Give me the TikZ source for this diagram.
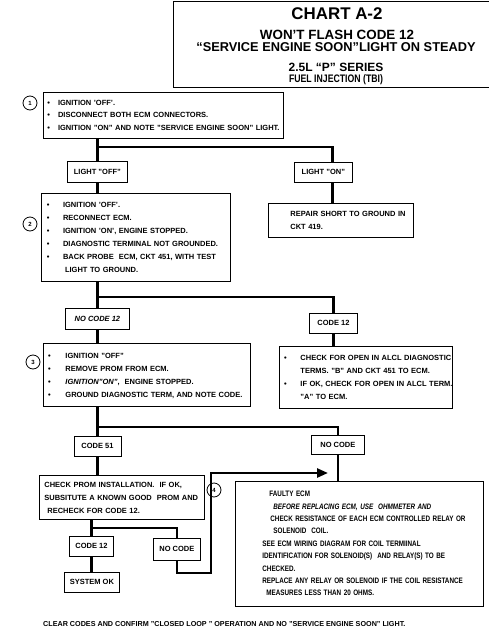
\documentclass[tikz,border=0pt]{standalone}
\usepackage{fontspec}
\setmainfont{Liberation Sans}
\newfontfamily\narrowfont[FakeStretch=0.8]{Liberation Sans}
\usetikzlibrary{arrows.meta}

\begin{document}
\begin{tikzpicture}[x=1pt,y=-1pt,
  box/.style={draw,line width=0.8pt,inner sep=0pt,anchor=north west,align=left,
    font=\fontsize{7.5}{13}\selectfont\bfseries},
  lbl/.style={draw,line width=0.8pt,inner sep=0pt,anchor=north west,
    font=\fontsize{7.5}{9}\selectfont\bfseries},
  num/.style={draw,circle,line width=0.8pt,inner sep=0pt,minimum size=14pt,
    font=\fontsize{6}{7}\selectfont\bfseries},
  ttl/.style={anchor=base,inner sep=0pt},
  link/.style={line width=2.4pt}]
\useasboundingbox (0,0) rectangle (488,640);
\node[draw,line width=0.9pt,anchor=north west,minimum width=319pt,minimum height=86pt] (head) at (173,1) {};
\node[ttl,font=\fontsize{16.9}{18}\selectfont\bfseries] (chart) at (337,19.3) {CHART A-2};
\node[ttl,font=\fontsize{13.4}{15}\selectfont\bfseries] (won) at (337,39.3) {WON’T FLASH CODE 12};
\node[ttl,font=\fontsize{12.8}{15}\selectfont\bfseries] (ses) at (336,51.7) {“SERVICE ENGINE SOON”LIGHT ON STEADY};
\node[ttl,font=\fontsize{12}{14}\selectfont\bfseries] (series) at (336,71.7) {2.5L “P” SERIES};
\node[ttl,font=\narrowfont\fontsize{10.9}{12}\selectfont\bfseries] (tbi) at (336,82.5) {FUEL INJECTION (TBI)};

\node[box,text width=240pt,minimum height=46pt] (s1) at (43,92) {\fontsize{7.5}{12.7}\selectfont
\begin{tabular}{@{\hspace{4pt}}l@{\hspace{8pt}}l@{}}
\textbullet & IGNITION ’OFF’.\\
\textbullet & DISCONNECT BOTH ECM CONNECTORS.\\
\textbullet & IGNITION "ON" AND NOTE "SERVICE ENGINE SOON" LIGHT.
\end{tabular}};
\node[num] (n1) at (30,103) {1};
\node[lbl,minimum width=60pt,minimum height=21pt] (lightoff) at (67,161) {LIGHT "OFF"};
\node[lbl,minimum width=58pt,minimum height=20pt] (lighton) at (294,162) {LIGHT "ON"};
\node[box,text width=189pt,minimum height=88pt] (s2) at (41,193) {%
\begin{tabular}{@{\hspace{5.5pt}}l@{\hspace{13.5pt}}l@{}}
\textbullet & IGNITION ’OFF’.\\
\textbullet & RECONNECT ECM.\\
\textbullet & IGNITION ’ON’, ENGINE STOPPED.\\
\textbullet & DIAGNOSTIC TERMINAL NOT GROUNDED.\\
\textbullet & BACK PROBE \ ECM, CKT 451, WITH TEST\\
 & \hspace{2pt}LIGHT TO GROUND.
\end{tabular}};
\node[num] (n2) at (30,224) {2};
\node[box,text width=145pt,minimum height=34pt] (repair) at (268,203) {%
\begin{tabular}{@{\hspace{22pt}}l@{}}
REPAIR SHORT TO GROUND IN\\
CKT 419.
\end{tabular}};
\node[lbl,minimum width=64pt,minimum height=21pt] (nocode12) at (65,308) {\itshape NO CODE 12};
\node[lbl,minimum width=48pt,minimum height=20pt] (code12a) at (309,313) {CODE 12};
\node[box,text width=207pt,minimum height=63pt] (s3) at (43,343) {%
\begin{tabular}{@{\hspace{4.7pt}}l@{\hspace{14.7pt}}l@{}}
\textbullet & IGNITION "OFF"\\
\textbullet & REMOVE PROM FROM ECM.\\
\textbullet & \textit{IGNITION"ON"}, \ ENGINE STOPPED.\\
\textbullet & GROUND DIAGNOSTIC TERM, AND NOTE CODE.
\end{tabular}};
\node[num] (n3) at (33,362) {3};
\node[box,text width=173pt,minimum height=62pt] (alcl) at (279,346) {%
\begin{tabular}{@{\hspace{4.7pt}}l@{\hspace{13.7pt}}l@{}}
\textbullet & CHECK FOR OPEN IN ALCL DIAGNOSTIC\\
 & TERMS. "B" AND CKT 451 TO ECM.\\
\textbullet & IF OK, CHECK FOR OPEN IN ALCL TERM.\\
 & "A" TO ECM.
\end{tabular}};
\node[lbl,minimum width=47pt,minimum height=20pt] (code51) at (73.5,436) {CODE 51};
\node[lbl,minimum width=53pt,minimum height=19pt] (nocodea) at (311,435) {NO CODE};
\node[box,text width=165pt,minimum height=44pt] (prom) at (39,475) {%
\begin{tabular}{@{\hspace{5pt}}l@{}}
CHECK PROM INSTALLATION. \ IF OK,\\
SUBSITUTE A KNOWN GOOD \ PROM AND\\
\hspace{3pt}RECHECK FOR CODE 12.
\end{tabular}};
\node[lbl,minimum width=44pt,minimum height=20pt] (code12b) at (69,536) {CODE 12};
\node[lbl,minimum width=47pt,minimum height=22pt] (nocodeb) at (153,538) {NO CODE};
\node[lbl,minimum width=55pt,minimum height=20pt] (sysok) at (64,572) {SYSTEM OK};
\node[box,text width=248pt,minimum height=125pt] (ecm) at (235,481) {\narrowfont\fontsize{7.9}{12.4}\selectfont
\begin{tabular}{@{\hspace{27pt}}l@{}}
\hspace{7pt}FAULTY ECM\\
\hspace{11pt}\itshape BEFORE REPLACING ECM, USE \ OHMMETER AND\\
\hspace{8pt}CHECK RESISTANCE OF EACH ECM CONTROLLED RELAY OR\\
\hspace{11pt}SOLENOID \ COIL.\\
SEE ECM WIRING DIAGRAM FOR COIL TERMIINAL\\
IDENTIFICATION FOR SOLENOID(S) \ AND RELAY(S) TO BE\\
CHECKED.\\
REPLACE ANY RELAY OR SOLENOID IF THE COIL RESISTANCE\\
\hspace{4pt}MEASURES LESS THAN 20 OHMS.
\end{tabular}};
\node[num] (n4) at (214,490) {4};
\node[anchor=base west,inner sep=0pt,font=\fontsize{7.2}{9}\selectfont\bfseries] (foot) at (43,626)
  {CLEAR CODES AND CONFIRM "CLOSED LOOP " OPERATION AND NO "SERVICE ENGINE SOON" LIGHT.};

\coordinate (j1) at (97,147);
\coordinate (j2) at (97,297);
\coordinate (j3) at (97,427);
\coordinate (j4) at (91,528);
\coordinate (l1) at (211,573);
\coordinate (tip) at (328,473);
\draw[link] (s1.south -| lightoff) -- (lightoff.north);
\draw[link] (j1) -| ([xshift=9pt]lighton.north);
\draw[link] ([xshift=9pt]lighton.south) -- ([xshift=9pt]lighton.south |- repair.north);
\draw[link] (lightoff.south) -- (lightoff.south |- s2.north);
\draw[link] (s2.south -| nocode12) -- (nocode12.north);
\draw[link] (j2) -| (code12a.north);
\draw[link] (code12a.south) -- (code12a.south |- alcl.north);
\draw[link] (nocode12.south) -- (nocode12.south |- s3.north);
\draw[link] (s3.south -| code51) -- (code51.north);
\draw[link] (j3) -| (nocodea.north);
\draw[link] (nocodea.south) -- (nocodea.south |- ecm.north);
\draw[link] (code51.south) -- (code51.south |- prom.north);
\draw[link] (prom.south -| code12b) -- (code12b.north);
\draw[link] (j4) -| (nocodeb.north);
\draw[link] (code12b.south) -- (code12b.south |- sysok.north);
\draw[link,-{Triangle[length=11pt,width=9pt]}] (nocodeb.south) |- (l1) |- (tip);
\end{tikzpicture}
\end{document}
